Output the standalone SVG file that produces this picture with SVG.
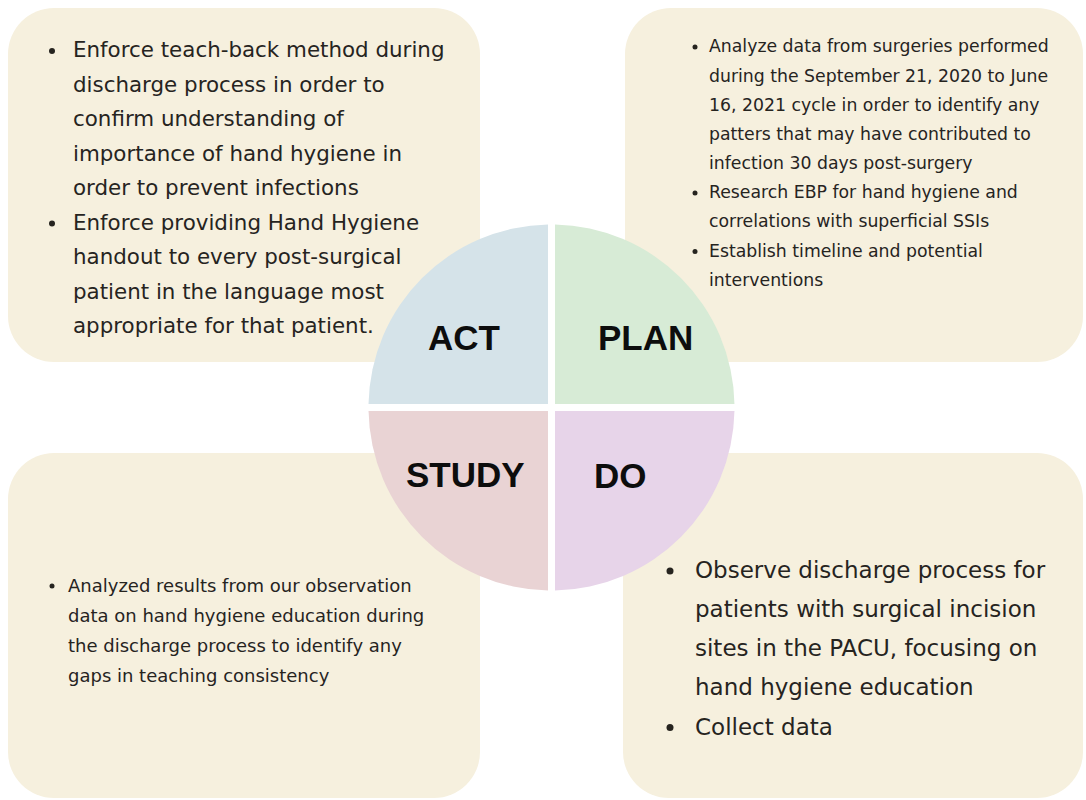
<svg xmlns="http://www.w3.org/2000/svg" width="1086" height="800" viewBox="0 0 1086 800">
  <style>
    .card { fill: #f6f0de; }
    .body { font-family: "DejaVu Sans", "Liberation Sans", sans-serif; fill: #26241f; }
    .bullet { fill: #26241f; }
    .label { font-family: "Liberation Sans", Arial, sans-serif; font-weight: 700; font-size: 35px; fill: #0d0d0d; }
  </style>
  <rect width="1086" height="800" fill="#ffffff"/>

  <!-- ACT card -->
  <g id="act-card">
    <rect class="card" x="8" y="8" width="472" height="354" rx="46"/>
    <circle class="bullet" cx="52" cy="51" r="3"/>
    <circle class="bullet" cx="52" cy="223.5" r="3"/>
    <text class="body" font-size="21.4" x="73">
      <tspan x="73" y="57">Enforce teach-back method during</tspan>
      <tspan x="73" y="91.5">discharge process in order to</tspan>
      <tspan x="73" y="126">confirm understanding of</tspan>
      <tspan x="73" y="160.5">importance of hand hygiene in</tspan>
      <tspan x="73" y="195">order to prevent infections</tspan>
      <tspan x="73" y="229.5">Enforce providing Hand Hygiene</tspan>
      <tspan x="73" y="264">handout to every post-surgical</tspan>
      <tspan x="73" y="298.5">patient in the language most</tspan>
      <tspan x="73" y="333">appropriate for that patient.</tspan>
    </text>
  </g>

  <!-- PLAN card -->
  <g id="plan-card">
    <rect class="card" x="625" y="8" width="458" height="354" rx="46"/>
    <circle class="bullet" cx="695" cy="47" r="2.5"/>
    <circle class="bullet" cx="695" cy="193" r="2.5"/>
    <circle class="bullet" cx="695" cy="251.5" r="2.5"/>
    <text class="body" font-size="17.3" x="709">
      <tspan x="709" y="52">Analyze data from surgeries performed</tspan>
      <tspan x="709" y="81.5">during the September 21, 2020 to June</tspan>
      <tspan x="709" y="111">16, 2021 cycle in order to identify any</tspan>
      <tspan x="709" y="140">patters that may have contributed to</tspan>
      <tspan x="709" y="169">infection 30 days post-surgery</tspan>
      <tspan x="709" y="198">Research EBP for hand hygiene and</tspan>
      <tspan x="709" y="227">correlations with superficial SSIs</tspan>
      <tspan x="709" y="257">Establish timeline and potential</tspan>
      <tspan x="709" y="286">interventions</tspan>
    </text>
  </g>

  <!-- STUDY card -->
  <g id="study-card">
    <rect class="card" x="8" y="453" width="472" height="345" rx="46"/>
    <circle class="bullet" cx="52" cy="586" r="2.5"/>
    <text class="body" font-size="18" x="68">
      <tspan x="68" y="592">Analyzed results from our observation</tspan>
      <tspan x="68" y="622">data on hand hygiene education during</tspan>
      <tspan x="68" y="652">the discharge process to identify any</tspan>
      <tspan x="68" y="682">gaps in teaching consistency</tspan>
    </text>
  </g>

  <!-- DO card -->
  <g id="do-card">
    <rect class="card" x="623" y="453" width="460" height="345" rx="46"/>
    <circle class="bullet" cx="670" cy="571" r="3.5"/>
    <circle class="bullet" cx="670" cy="727.5" r="3.5"/>
    <text class="body" font-size="23" x="695">
      <tspan x="695" y="578">Observe discharge process for</tspan>
      <tspan x="695" y="617">patients with surgical incision</tspan>
      <tspan x="695" y="656">sites in the PACU, focusing on</tspan>
      <tspan x="695" y="695">hand hygiene education</tspan>
      <tspan x="695" y="735">Collect data</tspan>
    </text>
  </g>

  <!-- PDSA wheel: four quadrants split by a white cross -->
  <g id="wheel-act">
    <path d="M548 404 V224.53 A183 183 0 0 0 368.53 404 Z" fill="#d5e3e9"/>
    <text class="label" x="428" y="350">ACT</text>
  </g>
  <g id="wheel-plan">
    <path d="M555 404 H734.47 A183 183 0 0 0 555 224.53 Z" fill="#d7ebd6"/>
    <text class="label" x="598" y="350">PLAN</text>
  </g>
  <g id="wheel-study">
    <path d="M548 411 H368.53 A183 183 0 0 0 548 590.47 Z" fill="#e9d3d4"/>
    <text class="label" x="406" y="487">STUDY</text>
  </g>
  <g id="wheel-do">
    <path d="M555 411 V590.47 A183 183 0 0 0 734.47 411 Z" fill="#e7d4e9"/>
    <text class="label" x="594" y="488">DO</text>
  </g>

  <g id="connectors"/>
</svg>
